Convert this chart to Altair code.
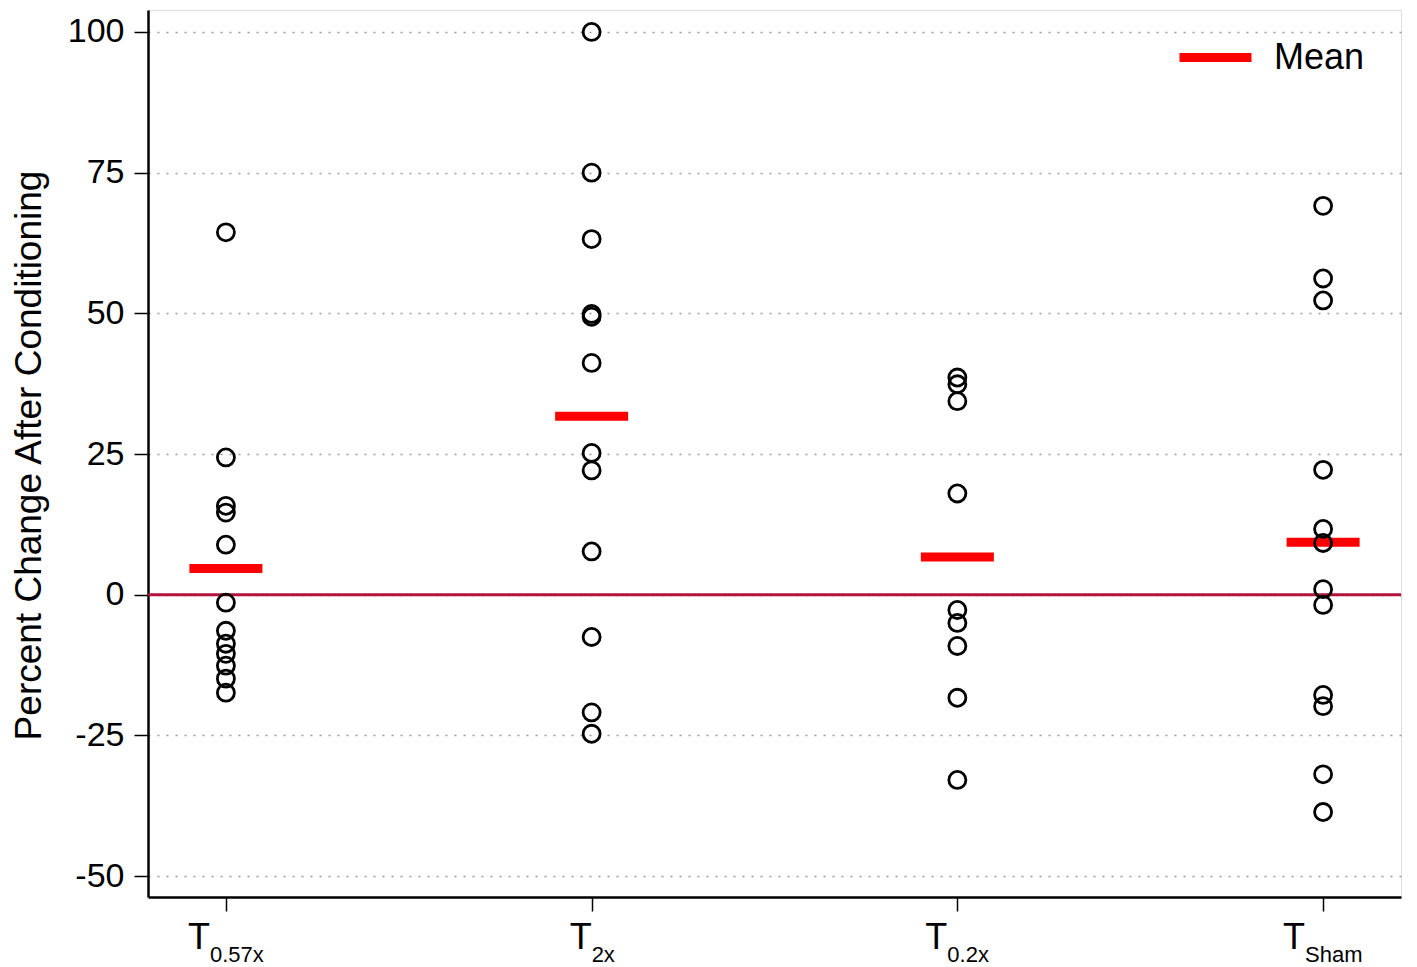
import altair as alt
import pandas as pd

# ---- data ----
groups = ["T0.57x", "T2x", "T0.2x", "TSham"]
subscripts = ["0.57x", "2x", "0.2x", "Sham"]

vals_057x = [64.4, 24.4, 15.8, 14.6, 8.9, -1.4, -6.4, -8.7, -10.5, -12.6, -14.9, -17.4]
vals_2x = [100.0, 75.0, 63.2, 49.9, 49.4, 41.2, 25.2, 22.1, 7.7, -7.5, -20.9, -24.7]
vals_02x = [38.6, 37.4, 34.4, 18.0, -2.7, -5.0, -9.1, -18.3, -32.9]
vals_sham = [69.1, 56.2, 52.3, 22.2, 11.7, 9.2, 1.0, -1.8, -17.8, -19.8, -31.9, -38.6]

y_ticks = [-50, -25, 0, 25, 50, 75, 100]

# style: horizontal offsets (px) of the T/subscript junction from each tick
label_dx = [-16, 0, -10, -18]

series = [vals_057x, vals_2x, vals_02x, vals_sham]
rows = []
for g, vs in zip(groups, series):
    for v in vs:
        rows.append({"group": g, "value": v})
df = pd.DataFrame(rows)

FONT = "Liberation Sans"
W, H = 1253, 887

xscale = alt.Scale(type="point", domain=groups, padding=0.213)
yscale = alt.Scale(domain=[-53.7, 103.9], nice=False, zero=False)

xenc = alt.X("group:N", scale=xscale,
             axis=alt.Axis(labels=False, title=None, tickSize=14, tickWidth=1.5,
                           tickColor="black", domainColor="black", domainWidth=2.5,
                           grid=False))
yaxis = alt.Axis(values=y_ticks, title="Percent Change After Conditioning",
                 labelExpr="'' + datum.value",
                 labelFontSize=34, labelFont=FONT, labelColor="black", labelPadding=10,
                 tickSize=14, tickWidth=1.5, tickColor="black",
                 domainColor="black", domainWidth=2.5,
                 grid=True, gridDash=[2, 7], gridColor="#9a9a9a", gridWidth=1.5,
                 titleFontSize=37, titleFont=FONT, titleFontWeight="normal",
                 titleColor="black", titleX=-119, titleY=445, titleBaseline="middle",
                 titleAngle=-90)

base = alt.Chart(df)

points = base.mark_point(shape="circle", filled=False, size=290, strokeWidth=2.8,
                         color="black", opacity=1).encode(
    x=xenc,
    y=alt.Y("value:Q", scale=yscale, axis=yaxis),
)

zero = alt.Chart(pd.DataFrame({"z": [0]})).mark_rule(color="#b3133d", strokeWidth=2.8).encode(
    y=alt.Y("z:Q", scale=yscale)
)

means = base.transform_aggregate(
    mean="mean(value)", groupby=["group"]
).transform_calculate(stat="'Mean'").mark_tick(
    orient="horizontal", size=73, thickness=9, opacity=1
).encode(
    x=alt.X("group:N", scale=xscale),
    y=alt.Y("mean:Q", scale=yscale),
    color=alt.Color("stat:N", scale=alt.Scale(domain=["Mean"], range=["#ff0000"]),
                    legend=alt.Legend(title=None, orient="none", legendX=1027, legendY=7,
                                      symbolType="stroke", symbolSize=5184,
                                      symbolStrokeWidth=9, symbolStrokeColor="#ff0000",
                                      symbolFillColor="#ff0000", symbolOpacity=1,
                                      labelFontSize=36,
                                      labelFont=FONT, labelColor="black",
                                      labelOffset=18, padding=0)),
)

label_layers = []
for g, s, dx in zip(groups, subscripts, label_dx):
    d = pd.DataFrame({"group": [g], "sub": [s]})
    t = alt.Chart(d).mark_text(text="T", align="right", baseline="alphabetic",
                               fontSize=36, font=FONT, color="black", dx=dx).encode(
        x=alt.X("group:N", scale=xscale), y=alt.value(939))
    sub = alt.Chart(d).mark_text(align="left", baseline="alphabetic",
                                 fontSize=22, font=FONT, color="black", dx=dx).encode(
        x=alt.X("group:N", scale=xscale), y=alt.value(952), text="sub:N")
    label_layers += [t, sub]

chart = alt.layer(zero, means, points, *label_layers).properties(
    width=W, height=H,
    autosize=alt.AutoSizeParams(type="none"),
    padding={"left": 140, "top": 2, "right": 5, "bottom": 70},
).configure_view(stroke="black", strokeWidth=1.5).configure(background="white")

chart.save("out.html", embed_options={"renderer": "svg", "actions": False})
